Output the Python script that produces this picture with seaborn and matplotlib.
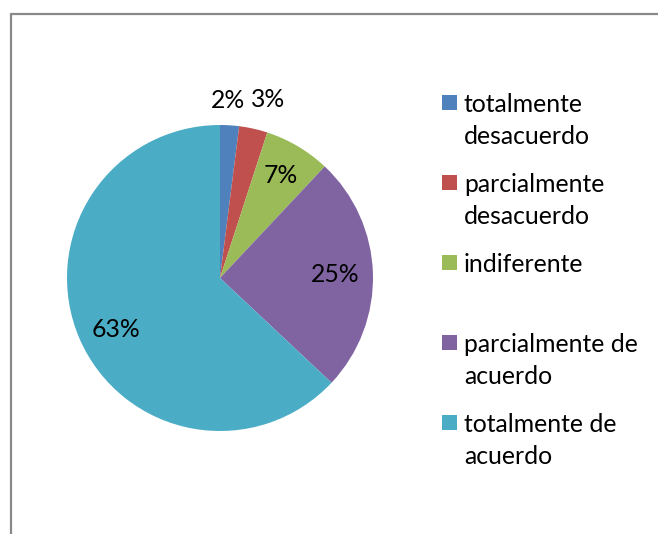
import matplotlib
matplotlib.use("Agg")
import matplotlib.pyplot as plt
from matplotlib.patches import Rectangle
from matplotlib.lines import Line2D
import numpy as np
import seaborn as sns

categories = ["totalmente\ndesacuerdo", "parcialmente\ndesacuerdo", "indiferente",
              "parcialmente de\nacuerdo", "totalmente de\nacuerdo"]
values = [2, 3, 7, 25, 63]
labels = ["2%", "3%", "7%", "25%", "63%"]
colors = ["#4F81BD", "#C0504D", "#9BBB59", "#8064A2", "#4BACC6"]
label_dist = [1.16, 1.21, 0.78, 0.75, 0.76]
angle_nudge = [-1.0, 2.5, 0.0, 0.0, -3.0]

sns.set_theme(style="white")
plt.rcParams["font.family"] = ["Lato", "DejaVu Sans"]

W, H = 658, 534
fig = plt.figure(figsize=(W / 100, H / 100), dpi=100)
fig.patch.set_facecolor("white")

cx, cy, r = 220, 278, 153
ax = fig.add_axes([(cx - r) / W, (H - cy - r) / H, 2 * r / W, 2 * r / H])
ax.pie(values, colors=colors, startangle=90, counterclock=False, radius=1,
       wedgeprops=dict(linewidth=0))
ax.set_xlim(-1, 1)
ax.set_ylim(-1, 1)
ax.set_aspect("equal")
ax.axis("off")

total = sum(values)
cum = 0
fs = 17.8
for v, lab, d, nd in zip(values, labels, label_dist, angle_nudge):
    mid = (cum + v / 2) / total * 360 + nd
    cum += v
    th = np.deg2rad(mid)
    ax.text(d * np.sin(th), d * np.cos(th), lab, ha="center", va="center",
            fontsize=fs, color="black", clip_on=False)

# legend drawn manually (Excel style)
for i, (cat, col) in enumerate(zip(categories, colors)):
    y0 = 102 + 80 * i
    fig.add_artist(Rectangle((442 / W, 1 - (y0 + 7.5) / H), 15 / W, 15 / H,
                             transform=fig.transFigure, facecolor=col, edgecolor="none"))
    for k, line in enumerate(cat.split("\n")):
        fig.text(464 / W, 1 - (y0 + 2 + 32 * k) / H, line, ha="left", va="center",
                 fontsize=fs, color="black")

# chart border (top and left visible)
bc = "#898989"
fig.add_artist(Line2D([11 / W, 1], [1 - 14 / H, 1 - 14 / H], transform=fig.transFigure,
                      color=bc, linewidth=1.6))
fig.add_artist(Line2D([11 / W, 11 / W], [1 - 14 / H, 0], transform=fig.transFigure,
                      color=bc, linewidth=1.6))

fig.savefig("out.png", dpi=100, facecolor="white")
